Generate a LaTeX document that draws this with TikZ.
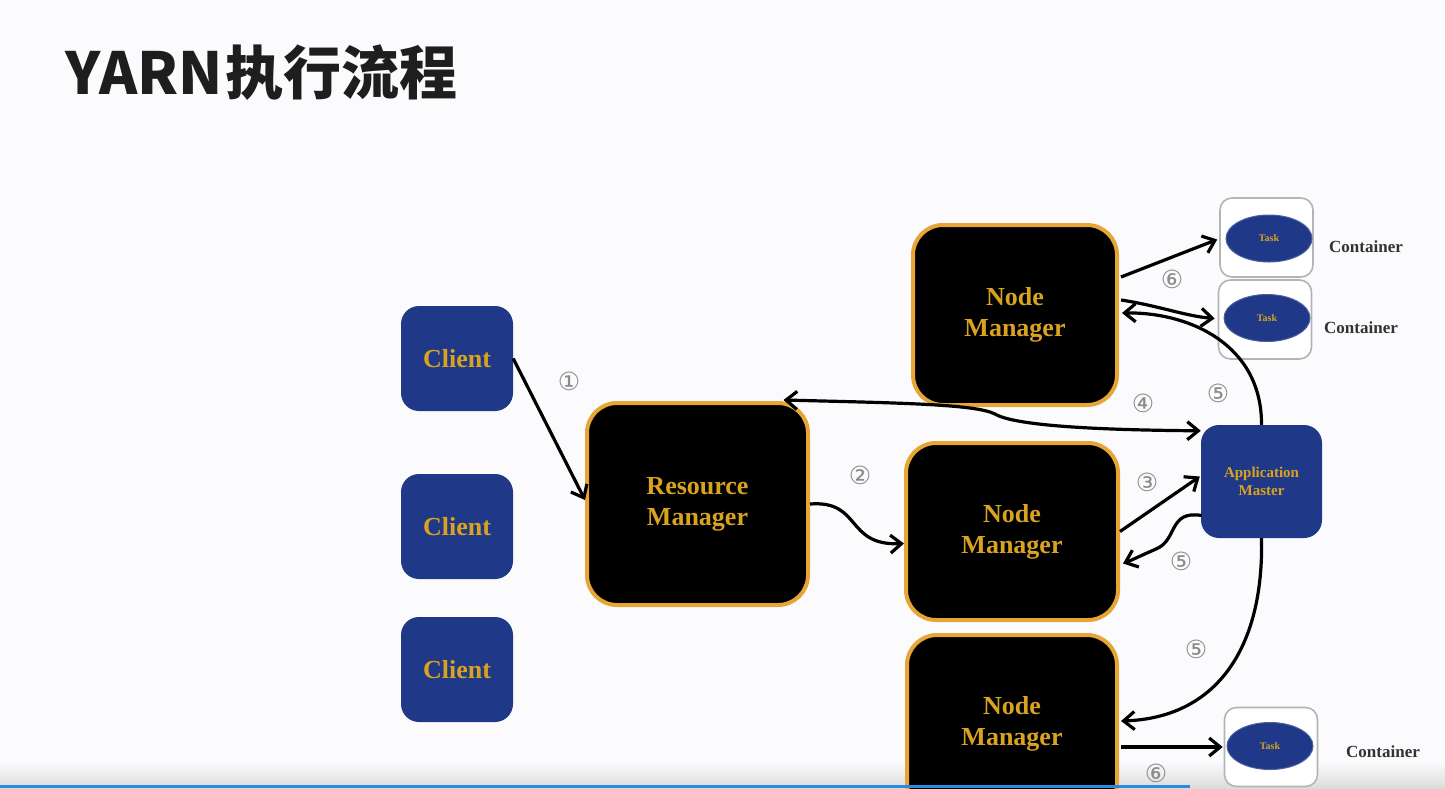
\documentclass[tikz,border=0pt]{standalone}
\usepackage{fontspec}
\setmainfont{Liberation Serif}
\newfontfamily\cjk{Noto Sans CJK SC}
\newfontfamily\dejavu{DejaVu Sans}
\usetikzlibrary{arrows.meta,calc,shapes.geometric}
\definecolor{ablue}{HTML}{1F3887}
\definecolor{agold}{HTML}{D9A320}
\definecolor{aorange}{HTML}{E6A535}
\definecolor{cgray}{HTML}{B4B4B8}
\definecolor{numgray}{HTML}{8A8A8A}
\definecolor{bgc}{HTML}{FBFBFD}
\definecolor{titlec}{HTML}{1E1E1E}
\definecolor{barblue}{HTML}{2A8AE0}
\tikzset{
  clientbox/.style={fill=ablue, rounded corners=18pt, minimum width=112pt, minimum height=105pt,
    inner sep=0pt, text=agold, font=\bfseries\fontsize{26}{31}\selectfont, align=center},
  mgrbox/.style={fill=black, draw=aorange, line width=4pt, rounded corners=30pt,
    inner sep=0pt, text=agold, font=\bfseries\fontsize{26}{31}\selectfont, align=center},
  ambox/.style={fill=ablue, rounded corners=18pt, minimum width=121pt, minimum height=113pt,
    inner sep=0pt, text=agold, font=\bfseries\fontsize{15}{18}\selectfont, align=center},
  contbox/.style={draw=cgray, line width=1.6pt, fill=white, rounded corners=12pt,
    minimum width=93pt, minimum height=79pt, inner sep=0pt},
  taskell/.style={ellipse, fill=ablue, draw=ablue!80!white, line width=1pt, minimum width=86pt, minimum height=47pt,
    inner sep=0pt, text=agold, font=\bfseries\fontsize{10}{12}\selectfont},
  contlabel/.style={text=black!80, font=\bfseries\fontsize{17}{20}\selectfont, inner sep=0pt},
  num/.style={text=numgray, font=\dejavu\fontsize{25}{25}\selectfont, inner sep=0pt},
  arr/.style={draw=black, line width=3.2pt, -{Straight Barb[length=11pt,width=18pt]}},
  darr/.style={draw=black, line width=3.2pt, {Straight Barb[length=11pt,width=18pt]}-{Straight Barb[length=11pt,width=18pt]}},
}
\begin{document}
\begin{tikzpicture}[x=1pt,y=-1pt]
\useasboundingbox (0,0) rectangle (1445,788);
\clip (0,0) rectangle (1445,788);
\fill[bgc] (0,0) rectangle (1445,788);
\shade[top color=bgc, bottom color=black!14] (0,762) rectangle (1445,788);

% title
\node[anchor=base west, inner sep=0pt, text=titlec, font=\cjk\bfseries\fontsize{58}{60}\selectfont] (title) at (65,94) {YARN\hspace{3pt}执行流程};

% clients
\node[clientbox] (c1) at (457,358.5) {Client};
\node[clientbox] (c2) at (457,526.5) {Client};
\node[clientbox] (c3) at (457,669.5) {Client};

% managers
\node[mgrbox, minimum width=221pt, minimum height=202pt] (rm) at (697.5,504) {Resource\\Manager};
\node[mgrbox, minimum width=204pt, minimum height=180pt] (nm1) at (1015,315) {Node\\Manager};
\node[mgrbox, minimum width=212pt, minimum height=177pt] (nm2) at (1012,531.5) {Node\\Manager};
\node[mgrbox, minimum width=210pt, minimum height=178pt] (nm3) at (1012,724) {Node\\Manager};

% application master
\node[ambox] (am) at (1261.5,481.5) {Application\\Master};

% containers
\node[contbox] (k1) at (1266.5,237.5) {};
\node[taskell] (t1) at (1269,238.5) {Task};
\node[contbox] (k2) at (1265,319.5) {};
\node[taskell] (t2) at (1267,318) {Task};
\node[contbox] (k3) at (1271,747) {};
\node[taskell] (t3) at (1270,746) {Task};
\node[contlabel] (l1) at (1366,247) {Container};
\node[contlabel] (l2) at (1361,328) {Container};
\node[contlabel] (l3) at (1383,752) {Container};

% arrows
\draw[arr] (c1.east) -- ($(rm.west)+(0,-4)$);
\draw[arr] (rm.east) .. controls (862,500) and (845,546) .. ($(nm2.west)+(0,12)$);
\draw[arr] (nm2.east) -- ($(am.west)+(-1,-5)$);
\draw[darr] ($(rm.north)+(86,-1)$) .. controls (900,403) and (975,404) .. (995,414)
   .. controls (1015,426) and (1100,430) .. ($(am.north west)+(0,6)$);
\draw[arr] (am.north) .. controls (1262,345) and (1190,312) .. ($(nm1.east)+(3,-2)$);
\draw[arr] ($(am.west)+(1,34)$) .. controls (1168,510) and (1178,540) .. (1156,549)
   .. controls (1140,556) and (1132,560) .. ($(nm2.east)+(3,32)$);
\draw[arr] (am.south) .. controls (1264,650) and (1215,718) .. ($(nm3.east)+(2,-3)$);
\draw[arr] ($(nm1.east)+(2,-38)$) -- ($(k1.west)+(-2,2)$);
\draw[arr] ($(nm1.east)+(2,-15)$) .. controls (1160,306) and (1185,316) .. ($(k2.west)+(-3,-1)$);
\draw[arr] ($(nm3.east)+(2,23)$) -- ($(k3.west)+(-1,0)$);

% step numbers
\node[num] (n1) at (569,381) {①};
\node[num] (n2) at (860,475) {②};
\node[num] (n3) at (1147,482) {③};
\node[num] (n4) at (1143,403) {④};
\node[num] (n5a) at (1218,393) {⑤};
\node[num] (n5b) at (1181,561) {⑤};
\node[num] (n5c) at (1196,649) {⑤};
\node[num] (n6a) at (1172,279) {⑥};
\node[num] (n6b) at (1156,773) {⑥};

% player progress bar
\fill[barblue] (0,785) rectangle (1190,788);
\end{tikzpicture}
\end{document}
